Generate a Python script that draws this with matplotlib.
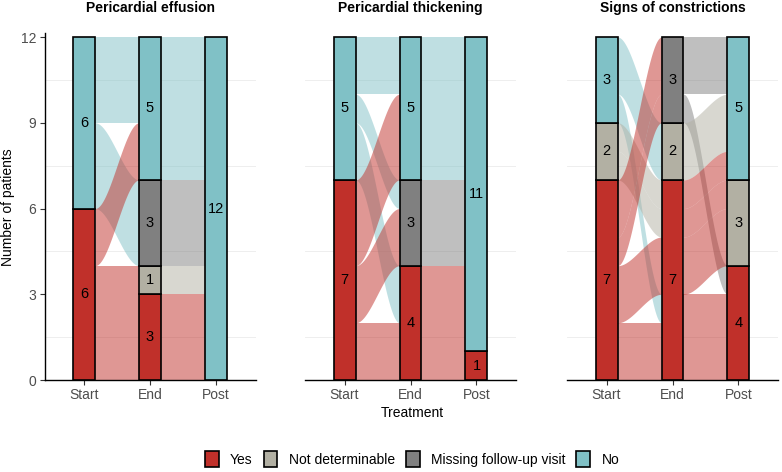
import numpy as np
import matplotlib
matplotlib.use("Agg")
import matplotlib.pyplot as plt
from matplotlib.patches import Patch

plt.rcParams['font.family'] = ['Liberation Sans', 'DejaVu Sans']

# axes of the alluvial plot and strata (bottom to top)
axis_names = ["Start", "End", "Post"]
levels = ["Yes", "Not determinable", "Missing follow-up visit", "No"]
level_colors = ["#C0302A", "#B2B0A3", "#808080", "#80C1C6"]

panel_titles = ["Pericardial effusion", "Pericardial thickening", "Signs of constrictions"]

# patient paths (Start, End, Post) and number of patients on each path
effusion_paths = [("Yes", "Yes", "No"), ("Yes", "Not determinable", "No"), ("Yes", "No", "No"),
                  ("No", "Missing follow-up visit", "No"), ("No", "No", "No")]
effusion_counts = [3, 1, 2, 3, 3]

thickening_paths = [("Yes", "Yes", "Yes"), ("Yes", "Yes", "No"), ("Yes", "Missing follow-up visit", "No"),
                    ("Yes", "No", "No"), ("No", "Yes", "No"), ("No", "Missing follow-up visit", "No"),
                    ("No", "No", "No")]
thickening_counts = [1, 1, 2, 3, 2, 1, 2]

constriction_paths = [("Yes", "Yes", "Yes"), ("Yes", "Yes", "Not determinable"),
                      ("Yes", "Missing follow-up visit", "Yes"), ("Yes", "Missing follow-up visit", "No"),
                      ("Not determinable", "Yes", "Not determinable"), ("Not determinable", "Yes", "No"),
                      ("No", "Yes", "Yes"), ("No", "Not determinable", "No")]
constriction_counts = [2, 2, 1, 2, 1, 1, 1, 2]

panels = [(effusion_paths, effusion_counts),
          (thickening_paths, thickening_counts),
          (constriction_paths, constriction_counts)]

W, H = 782, 472
fig = plt.figure(figsize=(W / 100, H / 100), dpi=100)

bar_w = 1 / 3
panel_left = [44.5, 305, 567]
panel_top, panel_bottom = 33, 380
panel_w = 211

# order of other axes used to sort lodes within a stratum
sort_keys = [(0, 1, 2), (1, 2, 0), (2, 1, 0)]


def smooth(u):
    return u * u * (3 - 2 * u)


for p, (paths, counts) in enumerate(panels):
    ax = fig.add_axes([panel_left[p] / W, 1 - panel_bottom / H, panel_w / W,
                       (panel_bottom - panel_top) / H])
    idx = [[levels.index(s) for s in path] for path in paths]
    bottoms = np.zeros((len(paths), 3))
    for a, keys in enumerate(sort_keys):
        order = sorted(range(len(paths)), key=lambda i: tuple(idx[i][k] for k in keys))
        cum = 0
        for i in order:
            bottoms[i, a] = cum
            cum += counts[i]

    # grid
    for g in [1.5, 4.5, 7.5, 10.5]:
        ax.axhline(g, color="#EBEBEB", lw=0.6, zorder=0)

    # flows, drawn from top stratum to bottom so red ends on top
    draw_order = sorted(range(len(paths)), key=lambda i: -idx[i][0])
    for a in range(2):
        for i in sorted(range(len(paths)), key=lambda i: -idx[i][a]):
            x0 = a + 1 + bar_w / 2
            x1 = a + 2 - bar_w / 2
            xs = np.linspace(x0, x1, 80)
            s = smooth((xs - x0) / (x1 - x0))
            low = bottoms[i, a] + (bottoms[i, a + 1] - bottoms[i, a]) * s
            ax.fill_between(xs, low, low + counts[i], color=level_colors[idx[i][a]],
                            alpha=0.5, lw=0, zorder=1)

    # strata
    for a in range(3):
        cum = 0
        for k, lev in enumerate(levels):
            n = sum(c for path, c in zip(paths, counts) if path[a] == lev)
            if n == 0:
                continue
            ax.bar(a + 1, n, bottom=cum, width=bar_w, color=level_colors[k],
                   edgecolor="black", lw=1.2, zorder=3)
            ax.text(a + 1, cum + n / 2, str(n), ha="center", va="center",
                    fontsize=10.5, zorder=4)
            cum += n

    ax.set_xlim(0.4, 3.6)
    ax.set_ylim(0, 12.14)
    ax.set_xticks([1, 2, 3])
    ax.set_xticklabels(axis_names, fontsize=10, color="#4D4D4D")
    ax.tick_params(axis="x", length=3.5, width=0.8, color="#333333", pad=2.5)
    for side in ["top", "right"]:
        ax.spines[side].set_visible(False)
    ax.spines["bottom"].set_linewidth(1.0)
    if p == 0:
        ax.set_yticks([0, 3, 6, 9, 12])
        ax.set_yticklabels(["0", "3", "6", "9", "12"], fontsize=10, color="#4D4D4D")
        ax.tick_params(axis="y", length=3.5, width=0.8, color="#333333", pad=2.5)
        ax.spines["left"].set_linewidth(1.0)
    else:
        ax.set_yticks([])
        ax.spines["left"].set_visible(False)
    ax.set_facecolor("none")

    fig.text((panel_left[p] + panel_w / 2) / W, 1 - 8 / H, panel_titles[p],
             ha="center", va="center", fontsize=10, fontweight="bold")

fig.text(8 / W, 1 - 207 / H, "Number of patients", rotation=90,
         ha="center", va="center", fontsize=10)
fig.text(412 / W, 1 - 413 / H, "Treatment", ha="center", va="center", fontsize=10)

handles = [Patch(facecolor=c, edgecolor="black", lw=1.2) for c in level_colors]
fig.legend(handles, levels, loc="center", bbox_to_anchor=(412 / W, 13 / H), ncol=4,
           frameon=False, fontsize=10, handlelength=1.0, handleheight=1.3,
           handletextpad=0.8, columnspacing=0.8)

fig.savefig("out.png", dpi=100)
